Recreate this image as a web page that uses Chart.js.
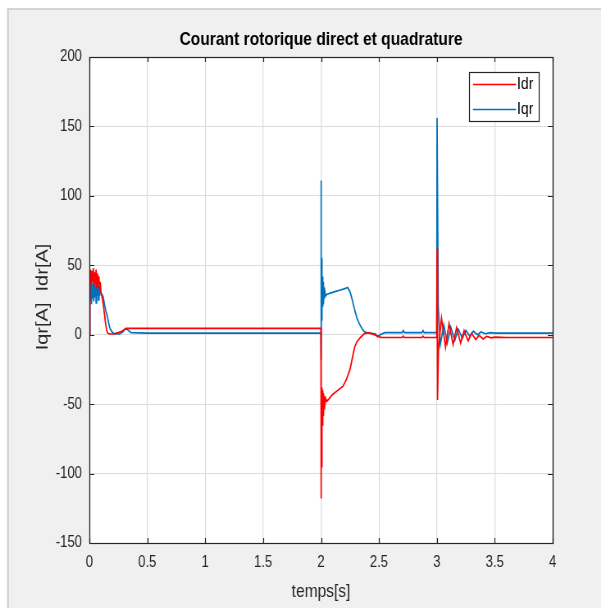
<!DOCTYPE html>
<html>
<head>
<meta charset="utf-8">
<script src="https://cdn.jsdelivr.net/npm/chart.js@4/dist/chart.umd.min.js"></script>
<style>
  html, body { margin: 0; padding: 0; background: #ffffff; overflow: hidden; width: 601px; height: 608px; }
  /* the reference figure is horizontally squeezed; reproduce that squeeze */
  #c { display: block; transform: scaleX(0.82); transform-origin: 0 0; }
</style>
</head>
<body>
<canvas id="c" width="733" height="608"></canvas>
<script>
// ---- data ----
const chartTitle = 'Courant rotorique direct et quadrature';
const xAxisTitle = 'temps[s]';
const yAxisTitle = 'Iqr[A]  Idr[A]';
const xTickValues = [0, 0.5, 1, 1.5, 2, 2.5, 3, 3.5, 4];
const xTickLabels = ['0', '0.5', '1', '1.5', '2', '2.5', '3', '3.5', '4'];
const yTickValues = [-150, -100, -50, 0, 50, 100, 150, 200];
const yTickLabels = ['-150', '-100', '-50', '0', '50', '100', '150', '200'];
const seriesNames = ['Idr', 'Iqr'];

const tIdr = [0,0.004,0.01,0.016,0.022,0.028,0.034,0.04,0.046,0.052,0.058,0.064,0.07,0.076,0.082,0.088,0.094,0.1,0.11,0.12,0.13,0.14,0.15,0.16,0.18,0.2,0.22,0.25,0.28,0.3,0.32,0.34,1.0,1.999,
  2.0,2.002,2.004,2.006,2.008,2.01,2.012,2.015,2.018,2.021,2.025,2.029,2.034,2.04,2.05,2.07,2.1,2.13,2.16,2.19,2.22,2.25,2.27,2.29,2.31,2.34,2.37,2.4,2.43,2.46,2.49,2.52,2.7,2.71,2.72,2.87,2.88,2.89,2.999,
  3.002,3.006,3.014,3.04,3.075,3.105,3.14,3.17,3.205,3.235,3.27,3.3,3.335,3.365,3.4,3.43,3.47,3.5,3.6,4.0];
const idr = [0,40,47,36,46,38,48,35,45,37,47,34,44,36,42,33,38,30,27,22,15,8,3,1,0.5,0.5,0.8,1.5,2.5,3.5,4.5,4.5,4.5,4.5,
  -118,-25,-95,-38,-78,-42,-65,-40,-58,-42,-53,-44,-50,-46,-48,-46,-43,-41,-39,-37,-32,-25,-17,-9,-5,-2,0.5,1.5,1,0,-1,-2,-2,-1,-2,-2,-1,-2,-2,
  62,-47,-10,12,-9,8,-7,5,-6,3,-4.5,1,-3.5,-0.5,-3,-1.2,-2.3,-1.7,-2,-2];

const tIqr = [0,0.003,0.008,0.013,0.018,0.023,0.028,0.033,0.038,0.043,0.048,0.053,0.058,0.063,0.068,0.073,0.078,0.083,0.088,0.093,0.1,0.11,0.12,0.13,0.14,0.155,0.17,0.18,0.2,0.22,0.26,0.29,0.31,0.33,0.36,0.5,1.999,
  2.0,2.002,2.004,2.006,2.008,2.01,2.012,2.015,2.018,2.021,2.025,2.029,2.034,2.04,2.05,2.08,2.12,2.16,2.2,2.23,2.25,2.27,2.29,2.31,2.33,2.35,2.37,2.39,2.43,2.47,2.49,2.51,2.55,2.7,2.71,2.72,2.87,2.88,2.89,2.999,
  3.002,3.012,3.03,3.06,3.09,3.12,3.155,3.185,3.22,3.25,3.285,3.315,3.35,3.38,3.42,3.46,3.5,4.0];
const iqr = [0,38,25,40,22,37,26,40,24,36,27,39,23,36,28,38,25,35,28,34,30,29,27,22,18,13,7,4,1.5,0.5,0.5,2,4.5,3.5,1.5,1.2,1.2,
  111,-18,55,10,48,18,42,20,38,22,34,26,31,28,29,30,31,32,33,34,31,25,18,12,8,5,2.5,1.5,1,0.5,-1.5,0,1.5,1.5,3,1.5,1.5,3,1.5,1.5,
  156,20,-7,7,-6,5.5,-4,4,-2.5,3,-1,2.5,0,2,0.7,1.5,1.2,1.2];

const seriesColors = ['#ff0000', '#0072bd'];
const toPts = (ts, vs) => ts.map((t, i) => ({ x: t, y: vs[i] }));

// ---- drawing helpers (canvas x = displayed x / 0.82) ----
const SX = 0.82;
const CW = 733, H = 608;
const X = d => d / SX;
const FONT = '"Liberation Sans", Arial, sans-serif';

const figurePlugin = {
  id: 'figure',
  beforeDraw(chart) {
    const ctx = chart.ctx, a = chart.chartArea;
    ctx.save();
    ctx.fillStyle = '#ffffff';
    ctx.fillRect(0, 0, CW, H);
    ctx.fillStyle = '#f0f0f0';
    ctx.fillRect(X(7), 8, CW, H - 8);
    ctx.fillStyle = '#d4d4d4';
    ctx.fillRect(X(7), 8, CW, 2);
    ctx.fillRect(X(7), 8, 2.4, H - 8);
    ctx.fillStyle = '#ffffff';
    ctx.fillRect(a.left, a.top, a.right - a.left, a.bottom - a.top);
    ctx.restore();
  },
  afterDraw(chart) {
    const ctx = chart.ctx, a = chart.chartArea;
    const xs = chart.scales.x, ys = chart.scales.y;
    ctx.save();
    // axes box
    ctx.strokeStyle = '#262626';
    ctx.lineWidth = 1.2;
    ctx.strokeRect(Math.round(a.left) + 0.5, Math.round(a.top) + 0.5,
                   Math.round(a.right - a.left), Math.round(a.bottom - a.top));
    // inward ticks
    const tlx = 6, tly = 5;
    ctx.beginPath();
    xTickValues.forEach(v => {
      const px = Math.round(xs.getPixelForValue(v)) + 0.5;
      ctx.moveTo(px, a.bottom); ctx.lineTo(px, a.bottom - tly);
      ctx.moveTo(px, a.top); ctx.lineTo(px, a.top + tly);
    });
    yTickValues.forEach(v => {
      const py = Math.round(ys.getPixelForValue(v)) + 0.5;
      ctx.moveTo(a.left, py); ctx.lineTo(a.left + tlx, py);
      ctx.moveTo(a.right, py); ctx.lineTo(a.right - tlx, py);
    });
    ctx.stroke();

    // title
    const cx = (a.left + a.right) / 2;
    ctx.fillStyle = '#000000';
    ctx.textAlign = 'center';
    ctx.textBaseline = 'middle';
    ctx.font = 'bold 19px ' + FONT;
    ctx.fillText(chartTitle, cx, 40);

    // x axis title
    ctx.fillStyle = '#262626';
    ctx.font = '19px ' + FONT;
    ctx.fillText(xAxisTitle, cx, 592);

    // y axis title
    ctx.save();
    ctx.translate(X(43), (a.top + a.bottom) / 2 - 3);
    ctx.rotate(-Math.PI / 2);
    ctx.font = '20px ' + FONT;
    ctx.fillText(yAxisTitle, 0, 0);
    ctx.restore();

    // legend box
    const lx = Math.round(X(469)) + 0.5, ly = 72.5, lw = Math.round(X(539) - X(469)), lh = 49;
    ctx.fillStyle = '#ffffff';
    ctx.fillRect(lx, ly, lw, lh);
    ctx.strokeStyle = '#262626';
    ctx.lineWidth = 1.2;
    ctx.strokeRect(lx, ly, lw, lh);
    ctx.font = '17px ' + FONT;
    ctx.textAlign = 'left';
    chart.data.datasets.forEach((ds, i) => {
      const yy = 84.5 + i * 25;
      ctx.strokeStyle = ds.borderColor;
      ctx.lineWidth = 1.6;
      ctx.beginPath();
      ctx.moveTo(X(473), yy); ctx.lineTo(X(516), yy);
      ctx.stroke();
      ctx.fillStyle = '#000000';
      ctx.fillText(ds.label, X(517), yy);
    });
    ctx.restore();
  }
};

new Chart(document.getElementById('c'), {
  type: 'line',
  data: {
    datasets: [
      { label: seriesNames[0], data: toPts(tIdr, idr), borderColor: seriesColors[0], borderWidth: 1.7, pointRadius: 0, tension: 0, fill: false },
      { label: seriesNames[1], data: toPts(tIqr, iqr), borderColor: seriesColors[1], borderWidth: 1.7, pointRadius: 0, tension: 0, fill: false }
    ]
  },
  options: {
    responsive: false,
    animation: false,
    devicePixelRatio: 1,
    layout: { padding: { left: 0, top: 57, right: Math.round(CW - X(553)), bottom: 0 } },
    plugins: { legend: { display: false }, title: { display: false }, tooltip: { enabled: false } },
    scales: {
      x: {
        type: 'linear', min: 0, max: 4,
        afterBuildTicks: s => { s.ticks = xTickValues.map(v => ({ value: v })); },
        afterFit: s => { s.height = 65; },
        grid: { color: '#dcdcdc', lineWidth: 1.2, drawTicks: false },
        border: { display: false },
        ticks: { padding: 10, color: '#262626', maxRotation: 0, autoSkip: false,
                 callback: (v, i) => xTickLabels[i],
                 font: { family: FONT, size: 16 } }
      },
      y: {
        type: 'linear', min: -150, max: 200,
        afterBuildTicks: s => { s.ticks = yTickValues.map(v => ({ value: v })); },
        afterFit: s => { s.width = Math.round(X(89)); },
        grid: { color: '#dcdcdc', lineWidth: 1, drawTicks: false },
        border: { display: false },
        ticks: { padding: 9, color: '#262626', autoSkip: false,
                 callback: (v, i) => yTickLabels[i],
                 font: { family: FONT, size: 16 } }
      }
    }
  },
  plugins: [figurePlugin]
});
</script>
</body>
</html>
